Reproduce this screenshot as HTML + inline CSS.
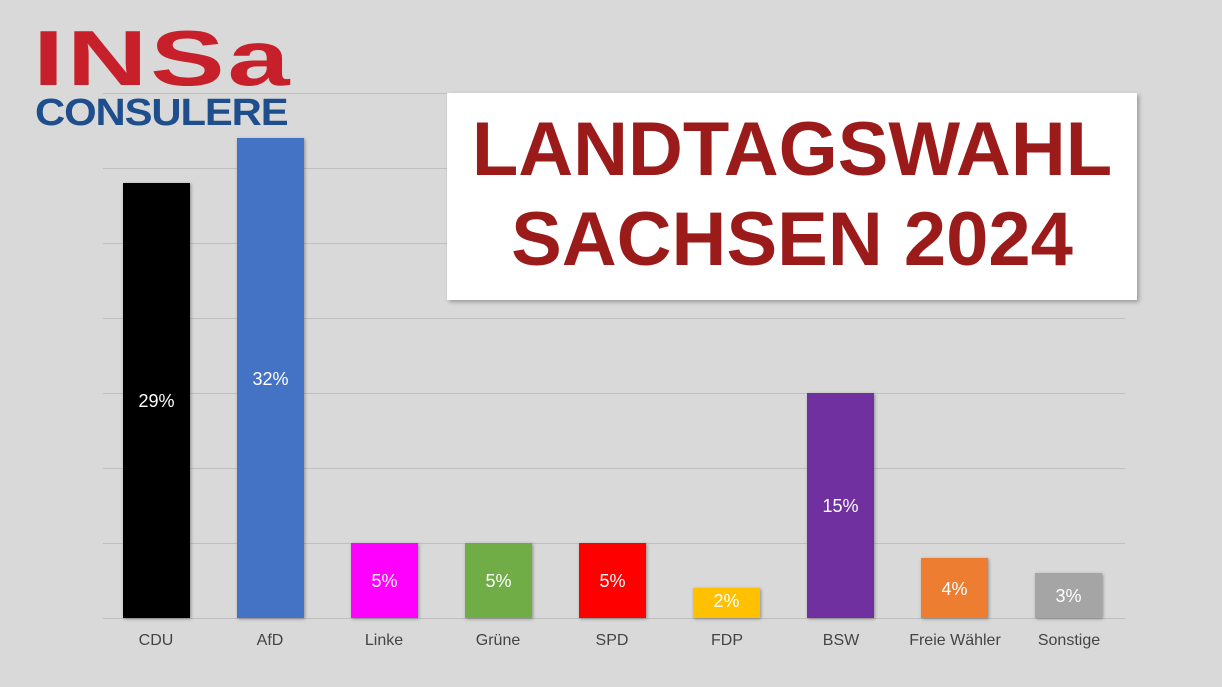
<!DOCTYPE html>
<html><head><meta charset="utf-8"><style>
body{margin:0;width:1222px;height:687px;background:#d9d9d9;position:relative;overflow:hidden;font-family:"Liberation Sans",sans-serif}
.g{position:absolute;left:103px;width:1022px;height:1px;background:#bfbfbf}
.b{position:absolute;width:67px;bottom:69px;box-shadow:1px 1px 3px rgba(0,0,0,.35)}
.v{position:absolute;width:67px;text-align:center;color:#fff;font-size:18px}
.l{position:absolute;top:632px;width:140px;text-align:center;color:#444;font-size:16px}
</style></head><body>
<div class="g" style="top:93px"></div><div class="g" style="top:168px"></div><div class="g" style="top:243px"></div><div class="g" style="top:318px"></div><div class="g" style="top:393px"></div><div class="g" style="top:468px"></div><div class="g" style="top:543px"></div><div class="g" style="top:618px"></div>

<div class="b" style="left:123px;height:435px;background:#000"></div>
<div class="b" style="left:237px;height:480px;background:#4472c4"></div>
<div class="b" style="left:351px;height:75px;background:#ff00ff"></div>
<div class="b" style="left:465px;height:75px;background:#70ad47"></div>
<div class="b" style="left:579px;height:75px;background:#ff0000"></div>
<div class="b" style="left:693px;height:30px;background:#ffc000"></div>
<div class="b" style="left:807px;height:225px;background:#7030a0"></div>
<div class="b" style="left:921px;height:60px;background:#ed7d31"></div>
<div class="b" style="left:1035px;height:45px;background:#a5a5a5"></div>

<div class="v" style="left:123px;top:391px">29%</div>
<div class="v" style="left:237px;top:369px">32%</div>
<div class="v" style="left:351px;top:571px">5%</div>
<div class="v" style="left:465px;top:571px">5%</div>
<div class="v" style="left:579px;top:571px">5%</div>
<div class="v" style="left:693px;top:591px">2%</div>
<div class="v" style="left:807px;top:496px">15%</div>
<div class="v" style="left:921px;top:579px">4%</div>
<div class="v" style="left:1035px;top:586px">3%</div>

<div class="l" style="left:86px">CDU</div>
<div class="l" style="left:200px">AfD</div>
<div class="l" style="left:314px">Linke</div>
<div class="l" style="left:428px">Grüne</div>
<div class="l" style="left:542px">SPD</div>
<div class="l" style="left:657px">FDP</div>
<div class="l" style="left:771px">BSW</div>
<div class="l" style="left:885px">Freie Wähler</div>
<div class="l" style="left:999px">Sonstige</div>

<div style="position:absolute;left:33px;top:17px;font-size:78px;font-weight:900;color:#c8202a;letter-spacing:2px;line-height:82px;transform:scaleX(1.43);transform-origin:left top">INSa</div>
<div style="position:absolute;left:35px;top:94px;font-size:38px;font-weight:bold;color:#1f4e8c;line-height:38px;letter-spacing:-1px;transform:scaleX(1.1);transform-origin:left top">CONSULERE</div>

<div style="position:absolute;left:447px;top:93px;width:690px;height:207px;background:#fff;box-shadow:2px 2px 4px rgba(0,0,0,.3);text-align:center;color:#9b1b1b;font-weight:bold;font-size:76px;line-height:90px">
<div style="margin-top:12px">LANDTAGSWAHL</div><div>SACHSEN 2024</div></div>
</body></html>
